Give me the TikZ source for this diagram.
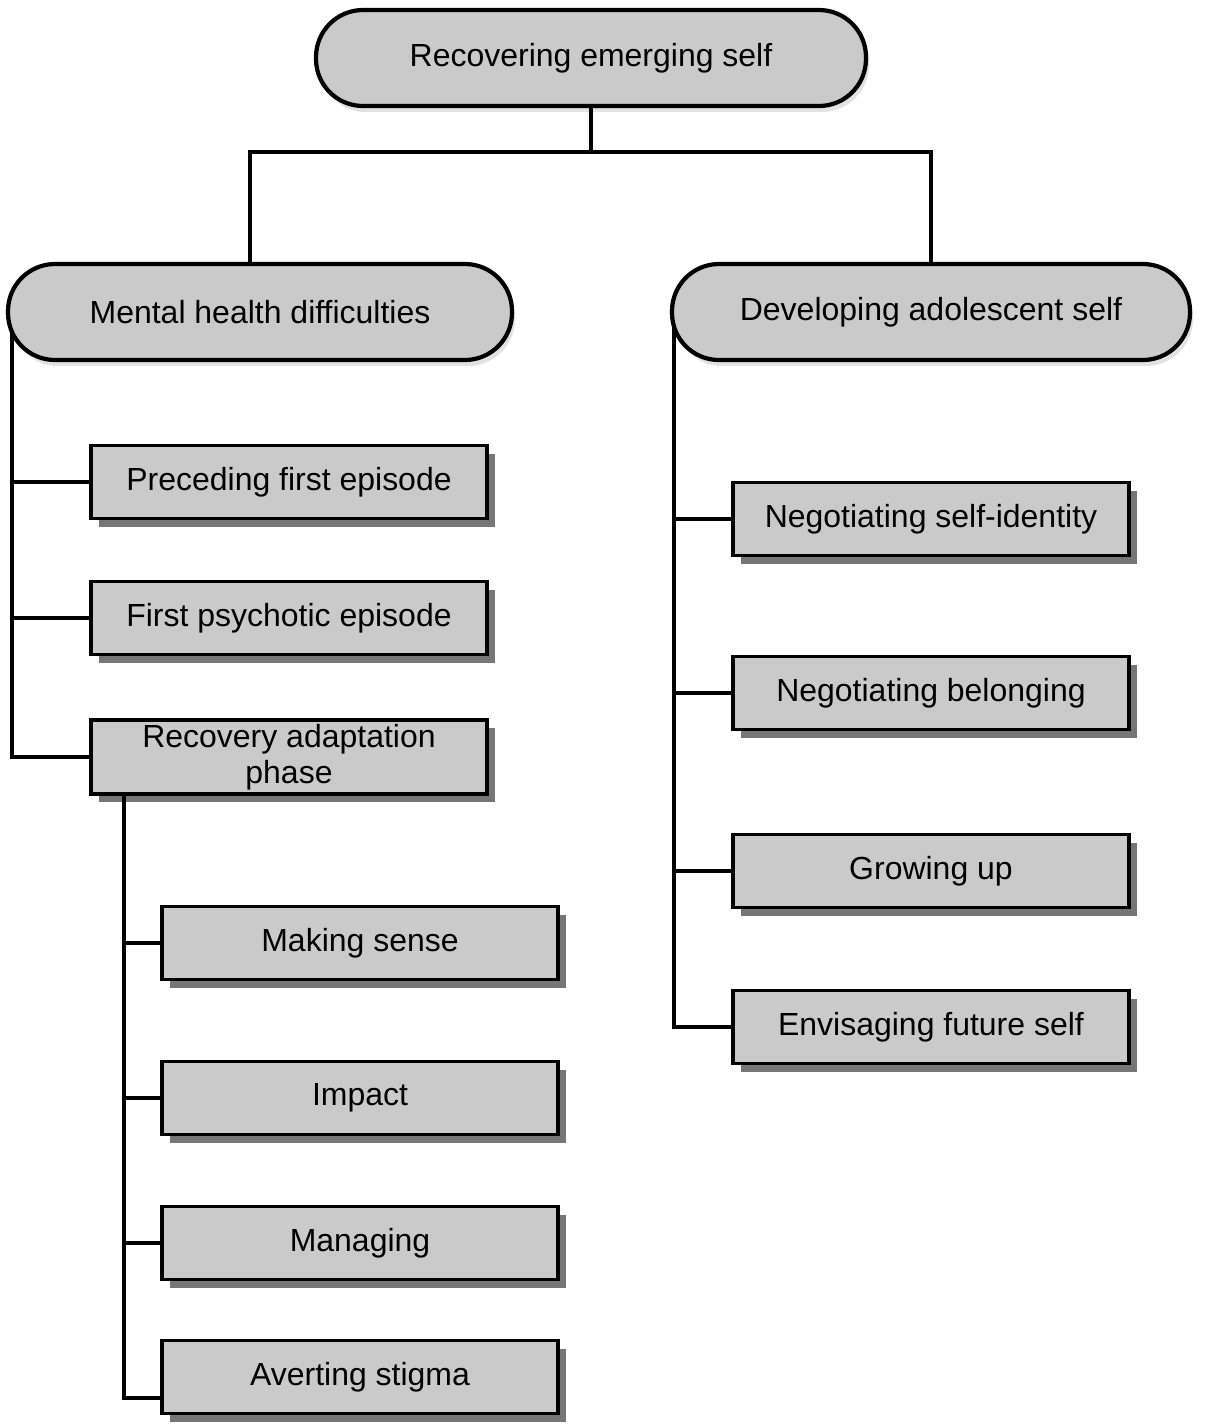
\documentclass[tikz,border=0pt]{standalone}
\usepackage{fontspec}
\setmainfont{Liberation Sans}
\usetikzlibrary{shadows,backgrounds}

\definecolor{boxgray}{HTML}{CACACA}
\definecolor{shadegray}{HTML}{767676}
\definecolor{halogray}{HTML}{E2E2E2}

\tikzset{
  pill/.style={draw, line width=1.2pt, fill=boxgray, rounded corners=4.7mm,
    inner sep=0pt, minimum height=9.6mm,
    drop shadow={shadow xshift=0.3mm, shadow yshift=-0.6mm, fill=halogray, opacity=1}},
  theme/.style={draw, line width=0.9pt, fill=boxgray, inner sep=0pt,
    minimum width=39.6mm, minimum height=7.3mm, align=center,
    drop shadow={shadow xshift=0.8mm, shadow yshift=-0.8mm, fill=shadegray, opacity=1}},
  link/.style={line width=1pt}
}

\begin{document}
\begin{tikzpicture}[x=0.1mm, y=-0.1mm, font=\fontsize{9.1}{10.4}\selectfont]
\useasboundingbox (0,0) rectangle (1204,1424);

% top levels
\node[pill, minimum width=55mm] (top) at (591,58) {Recovering emerging self};
\node[pill, minimum width=50.4mm] (mhd) at (260,312) {Mental health difficulties};
\node[pill, minimum width=51.8mm] (das) at (931,312) {Developing adolescent self};

% mental health themes
\node[theme] (pfe) at (289,482) {Preceding first episode};
\node[theme] (fpe) at (289,618) {First psychotic episode};
\node[theme, minimum height=7.4mm] (rap) at (289,757) {Recovery adaptation\\phase};

% recovery adaptation themes
\node[theme] (mks) at (360,943) {Making sense};
\node[theme] (imp) at (360,1098) {Impact};
\node[theme] (mng) at (360,1243) {Managing};
\node[theme] (avs) at (360,1377) {Averting stigma};

% adolescent self themes
\node[theme] (nsi) at (931,519) {Negotiating self-identity};
\node[theme] (nbl) at (931,693) {Negotiating belonging};
\node[theme] (gru) at (931,871) {Growing up};
\node[theme] (efs) at (931,1027) {Envisaging future self};

% connectors
\coordinate (bus) at (591,152);
\coordinate (lsp) at (12,312);
\coordinate (rsp) at (674,312);
\coordinate (ssp) at (124,794);
\draw[link] (top.south) -- (bus);
\draw[link] (mhd.north -| 250,0) |- (bus) -| (das.north);
\draw[link] (ssp) |- ([yshift=-2.1mm]avs.west);
\foreach \n in {mks,imp,mng} \draw[link] (\n.west) -- (\n.west -| ssp);
\begin{scope}[on background layer]
\fill[white] (0,0) rectangle (1204,1424);
\draw[link] (lsp) |- (rap.west);
\foreach \n in {pfe,fpe} \draw[link] (\n.west) -- (\n.west -| lsp);
\draw[link] (rsp) |- (efs.west);
\foreach \n in {nsi,nbl,gru} \draw[link] (\n.west) -- (\n.west -| rsp);
\end{scope}
\end{tikzpicture}
\end{document}
